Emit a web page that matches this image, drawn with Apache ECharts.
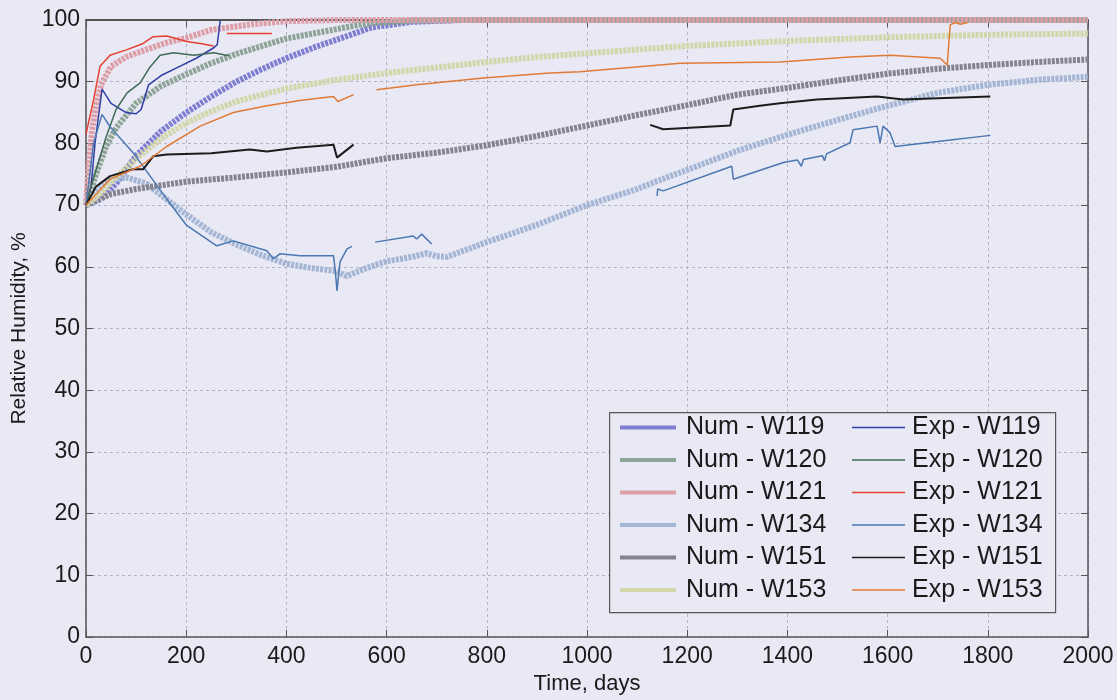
<!DOCTYPE html>
<html>
<head>
<meta charset="utf-8">
<script src="https://cdn.jsdelivr.net/npm/echarts@6/dist/echarts.min.js"></script>
<style>
html,body{margin:0;padding:0;background:#e9e8f5;}
#c{width:1117px;height:700px;}
</style>
</head>
<body>
<div id="c"></div>
<script>
// ---- tick values ----
const xTicks = [0,200,400,600,800,1000,1200,1400,1600,1800,2000];
const yTicks = [0,10,20,30,40,50,60,70,80,90,100];

// ---- numerical series [time(days), RH %] ----
const numW119 = [[0,70],[30,71],[60,73.5],[100,78],[150,82],[200,85],[250,87.6],[300,90],[350,92],[400,93.8],[460,95.7],[500,96.8],[570,98.8],[650,99.7],[750,100],[2000,100]];
const numW120 = [[0,70],[10,72.5],[20,75],[40,79.5],[60,82.5],[100,86.5],[150,89.3],[200,91.2],[250,93],[300,94.5],[400,97],[460,97.9],[550,99.3],[650,99.9],[750,100],[2000,100]];
const numW121 = [[0,70],[5,76],[12,82],[20,86],[30,89.5],[50,92.5],[80,94],[120,95.2],[160,96.3],[200,97.1],[250,98.4],[330,99.3],[400,99.8],[500,100],[2000,100]];
const numW134 = [[0,70],[20,72],[50,74],[80,74.5],[120,73.5],[160,71],[200,68.5],[250,65.6],[300,63.6],[350,61.9],[400,60.5],[450,59.8],[500,59.3],[520,58.5],[560,59.8],[600,60.9],[650,61.6],[680,62.2],[700,61.7],[720,61.6],[800,64],[900,66.8],[1000,70],[1100,72.6],[1140,73.9],[1200,75.7],[1300,78.8],[1400,81.4],[1500,83.8],[1600,86.1],[1700,88.2],[1800,89.5],[1900,90.3],[2000,90.8]];
const numW151 = [[0,70],[50,71.8],[100,72.6],[200,73.8],[300,74.5],[400,75.3],[500,76.2],[600,77.6],[700,78.5],[800,79.7],[900,81.2],[1000,82.9],[1100,84.6],[1200,86.2],[1300,87.9],[1400,89],[1500,90.2],[1600,91.3],[1700,92.1],[1800,92.7],[1900,93.2],[2000,93.6]];
const numW153 = [[0,70],[30,72],[60,74.5],[100,77.5],[150,80.8],[200,83.3],[250,85.2],[300,86.8],[400,88.9],[500,90.3],[600,91.4],[700,92.3],[800,93.2],[900,94],[1000,94.6],[1200,95.8],[1400,96.6],[1600,97.2],[1800,97.6],[2000,97.8]];

// ---- experimental series [time(days), RH %] ('-' = gap) ----
const expW119 = [[0,70],[10,73],[18,80],[32,88.8],[50,86.5],[80,85],[100,84.8],[110,85.5],[125,89.5],[150,91],[180,92.2],[220,93.8],[255,95.5],[262,96],[268,100]];
const expW120 = [[0,70],[10,73],[25,77],[40,81],[60,85.5],[82,88.2],[108,89.8],[128,92.4],[148,94.3],[175,94.7],[215,94.3],[255,94.7],[285,94.2]];
const expW121 = [[0,81.5],[15,87],[28,92.5],[48,94.3],[82,95.2],[114,96.2],[134,97.3],[161,97.4],[201,96.5],[228,96.2],[255,95.8],[268,'-'],[281,97.8],[371,97.8]];
const expW134 = [[0,70],[15,80],[32,84.7],[48,82.7],[94,78.5],[128,74.7],[161,71],[201,66.7],[261,63.4],[294,64.2],[361,62.6],[374,61.3],[387,62.1],[427,61.8],[494,61.8],[498,59],[501,56.1],[507,60.8],[521,62.9],[531,63.3],[550,'-'],[577,64],[653,65],[660,64.5],[670,65.3],[690,63.7],[900,'-'],[1140,71.5],[1141,72.6],[1152,72.3],[1289,76.3],[1292,74.2],[1392,76.9],[1420,77.3],[1428,76.3],[1432,77.4],[1470,78],[1474,77.2],[1478,78.3],[1525,80.1],[1531,82.2],[1579,82.8],[1585,80.1],[1591,82.8],[1605,81.7],[1615,79.5],[1700,80.3],[1805,81.3]];
const expW151 = [[0,70],[20,73],[48,74.7],[94,75.8],[114,75.8],[134,77.9],[161,78.2],[250,78.4],[327,79],[361,78.7],[420,79.3],[494,79.8],[501,77.7],[534,79.8],[800,'-'],[1126,83],[1152,82.3],[1286,82.9],[1292,85.5],[1345,86.1],[1385,86.5],[1459,87.1],[1579,87.6],[1631,87.1],[1700,87.3],[1805,87.6]];
const expW153 = [[0,70],[48,74.2],[108,76.3],[161,79.5],[228,82.8],[294,85],[361,86.1],[430,87],[494,87.6],[503,86.8],[534,87.9],[557,'-'],[580,88.7],[660,89.5],[793,90.6],[926,91.4],[986,91.6],[1186,93],[1385,93.2],[1525,94],[1605,94.3],[1705,93.8],[1719,92.7],[1725,99.2],[1735,99.6],[1745,99.3],[1760,99.6]];

const numNames = ['Num - W119','Num - W120','Num - W121','Num - W134','Num - W151','Num - W153'];
const expNames = ['Exp - W119','Exp - W120','Exp - W121','Exp - W134','Exp - W151','Exp - W153'];
const numData = [numW119,numW120,numW121,numW134,numW151,numW153];
const expData = [expW119,expW120,expW121,expW134,expW151,expW153];
const numColors = ['#7f7dd2','#8ea496','#dd9ea8','#a3b6d4','#85848e','#d2d6a8'];
const expColors = ['#2f3fa6','#3f6a55','#e8402e','#4a78b0','#1c1c1c','#e07a35'];

const bg = '#e9e8f5';
const font = "'Liberation Sans', Arial, sans-serif";
const txt = '#1a1a1a';

const series = [];
numNames.forEach((n,i)=>series.push({
  name:n, type:'line', data:numData[i], showSymbol:false, symbol:'none',
  lineStyle:{color:numColors[i], width:6, type:[3,1.2]}, itemStyle:{color:numColors[i]},
  z:2, silent:true, animation:false
}));
expNames.forEach((n,i)=>series.push({
  name:n, type:'line', data:expData[i], showSymbol:false, symbol:'none', connectNulls:false,
  lineStyle:{color:expColors[i], width: i===4?2:1.5}, itemStyle:{color:expColors[i]},
  z:3, silent:true, animation:false
}));

const chart = echarts.init(document.getElementById('c'), null, {renderer:'canvas'});
chart.setOption({
  backgroundColor: bg,
  animation:false,
  grid:{left:86, right:29, top:20, bottom:60, containLabel:false},
  xAxis:[{
    type:'value', min:0, max:2000, interval:200,
    name:'Time, days', nameLocation:'middle', nameGap:36,
    nameTextStyle:{fontFamily:font, fontSize:22, color:txt},
    axisLine:{show:true, onZero:false, lineStyle:{color:'#555', width:1.5}},
    axisTick:{show:true, inside:true, length:7, lineStyle:{color:'#555'}},
    axisLabel:{fontFamily:font, fontSize:23, color:txt, margin:8, formatter:v=>xTicks.includes(v)?String(v):''},
    splitLine:{show:true, lineStyle:{color:'#b4b4c6', type:[3,3], width:1}}
  },{
    type:'value', min:0, max:2000, interval:200, position:'top',
    axisLine:{show:true, onZero:false, lineStyle:{color:'#555', width:2}},
    axisTick:{show:true, inside:true, length:7, lineStyle:{color:'#555'}},
    axisLabel:{show:false}, splitLine:{show:false}
  }],
  yAxis:[{
    type:'value', min:0, max:100, interval:10,
    name:'Relative Humidity, %', nameLocation:'middle', nameGap:56,
    nameTextStyle:{fontFamily:font, fontSize:21, color:txt},
    axisLine:{show:true, onZero:false, lineStyle:{color:'#555', width:1.5}},
    axisTick:{show:true, inside:true, length:7, lineStyle:{color:'#555'}},
    axisLabel:{fontFamily:font, fontSize:23, color:txt, margin:6, formatter:v=>yTicks.includes(v)?String(v):''},
    splitLine:{show:true, lineStyle:{color:'#b4b4c6', type:[3,3], width:1}}
  },{
    type:'value', min:0, max:100, interval:10, position:'right',
    axisLine:{show:true, onZero:false, lineStyle:{color:'#555', width:1.5}},
    axisTick:{show:true, inside:true, length:7, lineStyle:{color:'#555'}},
    axisLabel:{show:false}, splitLine:{show:false}
  }],
  graphic:[{
    type:'rect', z:5, left:609, top:412,
    shape:{width:446, height:200},
    style:{fill:bg, stroke:'#555', lineWidth:1.2}
  }],
  legend:[{
    orient:'vertical', left:620, top:415, padding:0, itemGap:7.5,
    itemWidth:56, itemHeight:4, z:10, icon:'rect',
    textStyle:{fontFamily:font, fontSize:25, color:txt, padding:[0,0,0,5]},
    data:numNames, selectedMode:false
  },{
    orient:'vertical', left:852, top:415, padding:0, itemGap:7.5,
    itemWidth:53, itemHeight:1.5, z:10, icon:'rect',
    textStyle:{fontFamily:font, fontSize:25, color:txt, padding:[0,0,0,2]},
    data:expNames, selectedMode:false
  }],
  series: series
});
</script>
</body>
</html>
